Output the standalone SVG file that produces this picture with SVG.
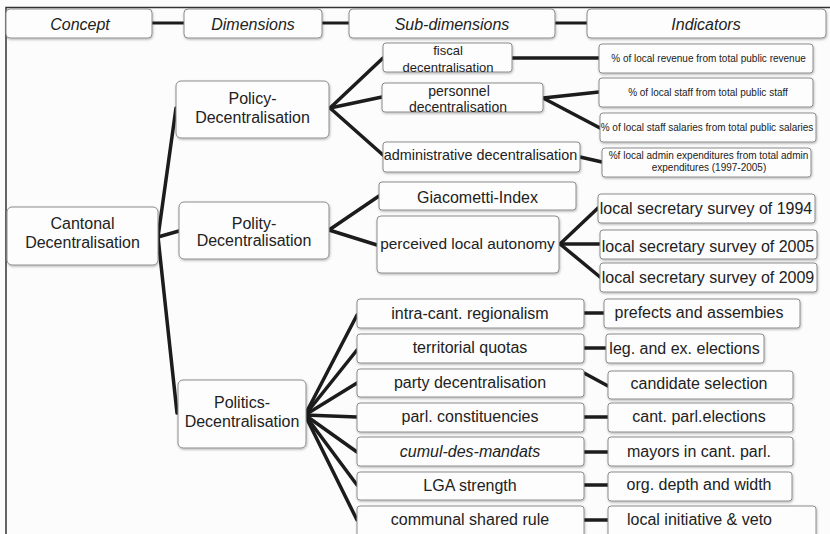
<svg xmlns="http://www.w3.org/2000/svg" width="830" height="534" viewBox="0 0 830 534">
<defs>
<filter id="sh" x="-5%" y="-10%" width="110%" height="130%">
<feDropShadow dx="0.6" dy="1.2" stdDeviation="0.8" flood-color="#000" flood-opacity="0.28"/>
</filter>
<style>
.bx{fill:#fdfdfd;stroke:#8c8c8c;stroke-width:1;filter:url(#sh)}
.t{font-family:"Liberation Sans",Arial,sans-serif;fill:#222;text-anchor:middle}
.t16{font-size:16px}
.t10{font-size:10px}
.it{font-style:italic}
.c{stroke:#1c1c1c;stroke-width:3.5;fill:none;stroke-linecap:round}
.hc{stroke:#1c1c1c;stroke-width:3;fill:none}
.fr{stroke:#333;stroke-width:1.5;fill:none}
</style>
</defs>
<rect x="0" y="0" width="830" height="534" fill="#fcfcfc"/>
<path class="fr" d="M6,534 V7.5 H830"/>

<g id="connectors">
<line class="hc" x1="152" y1="23" x2="184" y2="23"/>
<line class="hc" x1="322" y1="23" x2="349" y2="23"/>
<line class="hc" x1="555" y1="23" x2="587" y2="23"/>
<path class="c" d="M158,237 L176,108"/>
<path class="c" d="M158,237 L179,231"/>
<path class="c" d="M158,237 L177,413"/>
<path class="c" d="M330,108 L383,58"/>
<path class="c" d="M330,108 L382,97"/>
<path class="c" d="M330,108 L383,155"/>
<path class="c" d="M512,58 L599,58"/>
<path class="c" d="M543,98 L599,92"/>
<path class="c" d="M543,98 L600,128"/>
<path class="c" d="M580,157 L602,162"/>
<path class="c" d="M329,230 L379,196"/>
<path class="c" d="M329,230 L377,245"/>
<path class="c" d="M560,244 L598,208"/>
<path class="c" d="M560,244 L600,244"/>
<path class="c" d="M560,244 L600,277"/>
<path class="c" d="M305,415 L357,315"/>
<path class="c" d="M305,415 L357,350"/>
<path class="c" d="M305,415 L357,383"/>
<path class="c" d="M305,415 L357,417"/>
<path class="c" d="M305,415 L357,452"/>
<path class="c" d="M305,415 L357,485"/>
<path class="c" d="M305,415 L357,520"/>
<path class="c" d="M584,313 L604,313"/>
<path class="c" d="M584,348 L606,348"/>
<path class="c" d="M584,373 L608,386"/>
<path class="c" d="M584,417 L608,417"/>
<path class="c" d="M584,452 L608,452"/>
<path class="c" d="M584,485 L608,485"/>
<path class="c" d="M584,520 L608,520"/>
</g>

<g id="h-concept"><rect class="bx" x="6" y="9" width="146" height="29" rx="4"/><text class="t t16 it" x="80" y="29.5">Concept</text></g>
<g id="h-dimensions"><rect class="bx" x="184" y="9" width="138" height="29" rx="4"/><text class="t t16 it" x="253" y="29.5">Dimensions</text></g>
<g id="h-subdimensions"><rect class="bx" x="349" y="9" width="206" height="29" rx="4"/><text class="t t16 it" x="452" y="29.5">Sub-dimensions</text></g>
<g id="h-indicators"><rect class="bx" x="587" y="9" width="239" height="29" rx="4"/><text class="t t16 it" x="706" y="29.5">Indicators</text></g>

<g id="cantonal"><rect class="bx" x="7" y="207" width="151" height="58" rx="5"/><text class="t t16" x="82.5" y="228.7">Cantonal</text><text class="t t16" x="82.5" y="247.7">Decentralisation</text></g>

<g id="policy"><rect class="bx" x="176" y="81" width="153" height="57" rx="5"/><text class="t t16" x="252.5" y="103.7">Policy-</text><text class="t t16" x="252.5" y="122.7">Decentralisation</text></g>
<g id="polity"><rect class="bx" x="179" y="202" width="150" height="57" rx="5"/><text class="t t16" x="254" y="228.7">Polity-</text><text class="t t16" x="254" y="245.7">Decentralisation</text></g>
<g id="politics"><rect class="bx" x="178" y="380" width="128" height="68" rx="5"/><text class="t t16" x="242" y="407.7">Politics-</text><text class="t t16" x="242" y="426.7">Decentralisation</text></g>

<g id="fiscal"><rect class="bx" x="383" y="43" width="129" height="29" rx="3"/><text class="t" font-size="13" x="448" y="54.6">fiscal</text><text class="t" font-size="13" x="448" y="71.6">decentralisation</text></g>
<g id="personnel"><rect class="bx" x="382" y="83" width="161" height="29" rx="3"/><text class="t" font-size="14" x="459" y="96">personnel</text><text class="t" font-size="14" x="458" y="112">decentralisation</text></g>
<g id="administrative"><rect class="bx" x="383" y="142" width="197" height="30" rx="3"/><text class="t" font-size="14.4" x="480.5" y="160.2">administrative decentralisation</text></g>

<g id="ind-revenue"><rect class="bx" x="599" y="44" width="214" height="29" rx="3"/><text class="t t10" x="708.5" y="61.6">% of local revenue from total public revenue</text></g>
<g id="ind-staff"><rect class="bx" x="599" y="78" width="214" height="29" rx="3"/><text class="t t10" x="708" y="95.6">% of local staff from total public staff</text></g>
<g id="ind-salaries"><rect class="bx" x="600" y="113" width="216" height="29" rx="3"/><text class="t t10" x="707" y="130.6">% of local staff salaries from total public salaries</text></g>
<g id="ind-admin"><rect class="bx" x="602" y="148" width="209" height="29" rx="3"/><text class="t t10" x="708.5" y="158.6">%f local admin expenditures from total admin</text><text class="t t10" x="709" y="170.6">expenditures (1997-2005)</text></g>

<g id="giacometti"><rect class="bx" x="379" y="182" width="197" height="28" rx="3"/><text class="t t16" x="477.5" y="202.7">Giacometti-Index</text></g>
<g id="perceived"><rect class="bx" x="377" y="216" width="182" height="57" rx="4"/><text class="t" font-size="15.4" x="467.5" y="248.5">perceived local autonomy</text></g>

<g id="survey1994"><rect class="bx" x="598" y="194" width="217" height="29" rx="3"/><text class="t t16" x="706" y="213.7">local secretary survey of 1994</text></g>
<g id="survey2005"><rect class="bx" x="600" y="230" width="217" height="29" rx="3"/><text class="t t16" x="708" y="251.7">local secretary survey of 2005</text></g>
<g id="survey2009"><rect class="bx" x="600" y="263" width="217" height="29" rx="3"/><text class="t t16" x="708" y="282.7">local secretary survey of 2009</text></g>

<g id="regionalism"><rect class="bx" x="357" y="299" width="227" height="29" rx="3"/><text class="t t16" x="470" y="318.7">intra-cant. regionalism</text></g>
<g id="quotas"><rect class="bx" x="357" y="334" width="227" height="29" rx="3"/><text class="t t16" x="470" y="352.7">territorial quotas</text></g>
<g id="party"><rect class="bx" x="357" y="369" width="227" height="28" rx="3"/><text class="t t16" x="470" y="387.7">party decentralisation</text></g>
<g id="constituencies"><rect class="bx" x="357" y="403" width="227" height="29" rx="3"/><text class="t t16" x="470" y="421.7">parl. constituencies</text></g>
<g id="cumul"><rect class="bx" x="357" y="437" width="227" height="29" rx="3"/><text class="t t16 it" x="470" y="456.7">cumul-des-mandats</text></g>
<g id="lga"><rect class="bx" x="357" y="472" width="227" height="28" rx="3"/><text class="t t16" x="470" y="490.7">LGA strength</text></g>
<g id="communal"><rect class="bx" x="357" y="506" width="227" height="32" rx="3"/><text class="t t16" x="470" y="524.7">communal shared rule</text></g>

<g id="prefects"><rect class="bx" x="604" y="299" width="196" height="29" rx="3"/><text class="t t16" x="699" y="317.7">prefects and assembies</text></g>
<g id="elections"><rect class="bx" x="606" y="334" width="158" height="29" rx="3"/><text class="t t16" x="684.5" y="353.7">leg. and ex. elections</text></g>
<g id="candidate"><rect class="bx" x="608" y="371" width="185" height="28" rx="3"/><text class="t t16" x="699" y="388.7">candidate selection</text></g>
<g id="cantparl"><rect class="bx" x="608" y="403" width="185" height="29" rx="3"/><text class="t t16" x="699" y="421.7">cant. parl.elections</text></g>
<g id="mayors"><rect class="bx" x="608" y="437" width="185" height="29" rx="3"/><text class="t t16" x="699" y="456.7">mayors in cant. parl.</text></g>
<g id="orgdepth"><rect class="bx" x="608" y="472" width="184" height="29" rx="3"/><text class="t t16" x="699" y="489.7">org. depth and width</text></g>
<g id="initiative"><rect class="bx" x="608" y="506" width="208" height="32" rx="3"/><text class="t t16" x="699.5" y="524.7">local initiative &amp; veto</text></g>
</svg>
